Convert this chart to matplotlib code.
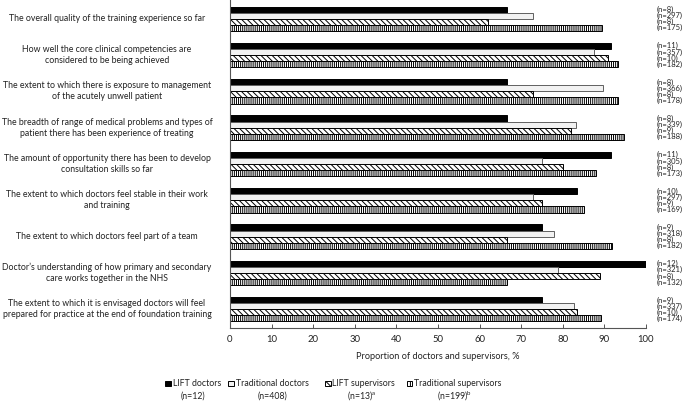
import matplotlib
matplotlib.use("Agg")
import matplotlib.pyplot as plt
import matplotlib.transforms as mtransforms
from matplotlib.patches import Rectangle
import numpy as np

plt.rcParams['font.family'] = ['Lato', 'DejaVu Sans']
plt.rcParams['hatch.linewidth'] = 0.7

categories = [
    "The overall quality of the training experience so far",
    "How well the core clinical competencies are\nconsidered to be being achieved",
    "The extent to which there is exposure to management\nof the acutely unwell patient",
    "The breadth of range of medical problems and types of\npatient there has been experience of treating",
    "The amount of opportunity there has been to develop\nconsultation skills so far",
    "The extent to which doctors feel stable in their work\nand training",
    "The extent to which doctors feel part of a team",
    "Doctor\u2019s understanding of how primary and secondary\ncare works together in the NHS",
    "The extent to which it is envisaged doctors will feel\nprepared for practice at the end of foundation training",
]

lift_doctors = [66.7, 91.7, 66.7, 66.7, 91.7, 83.3, 75.0, 100.0, 75.0]
trad_doctors = [72.9, 87.6, 89.7, 83.2, 74.9, 72.9, 78.0, 78.8, 82.6]
lift_supervisors = [62.0, 90.9, 72.8, 81.9, 80.1, 75.1, 66.7, 88.9, 83.5]
trad_supervisors = [89.5, 93.3, 93.2, 94.6, 87.9, 85.1, 91.9, 66.7, 89.3]

n_lift_doctors = [8, 11, 8, 8, 11, 10, 9, 12, 9]
n_trad_doctors = [297, 357, 366, 339, 305, 297, 318, 321, 337]
n_lift_supervisors = [8, 10, 8, 9, 8, 9, 8, 8, 10]
n_trad_supervisors = [175, 182, 178, 188, 173, 169, 182, 132, 174]

legend_first = ["LIFT doctors", "Traditional doctors", "LIFT supervisors", "Traditional supervisors"]
legend_second = ["(n=12)", "(n=408)", "(n=13)$^{\\mathregular{a}}$", "(n=199)$^{\\mathregular{b}}$"]

xticks = [0, 10, 20, 30, 40, 50, 60, 70, 80, 90, 100]
xlabel = "Proportion of doctors and supervisors, %"

W, H = 685, 405
fig = plt.figure(figsize=(W / 100, H / 100), dpi=100)
ax = fig.add_axes([230 / W, 1 - 328 / H, (646 - 230) / W, 328 / H])

series = [lift_doctors, trad_doctors, lift_supervisors, trad_supervisors]
ns = [n_lift_doctors, n_trad_doctors, n_lift_supervisors, n_trad_supervisors]
styles = [
    dict(facecolor='black', edgecolor='black', hatch=None),
    dict(facecolor='#f2f2f2', edgecolor='#606060', hatch=None),
    dict(facecolor='white', edgecolor='black', hatch='\\\\\\\\\\\\'),
    dict(facecolor='white', edgecolor='black', hatch='||||||||'),
]
h = 0.168
y = np.arange(len(categories))
for k, (vals, st) in enumerate(zip(series, styles)):
    yy = y + (k - 1.5) * h
    ax.barh(yy, vals, height=h, linewidth=0.7, **st)
    for yi, n in zip(yy, ns[k]):
        ax.text(102.6, yi, f"(n={n})", fontsize=5.5, va='center', ha='left',
                color='#222222', clip_on=False)

ax.set_xlim(0, 100)
ax.set_ylim(8 + 2 * h + 0.18, -2 * h - 0.18)
ax.set_yticks([])
ax.set_xticks(xticks)
ax.tick_params(axis='x', direction='in', length=3, width=0.7, color='#555555',
               labelsize=6.8, pad=5, labelcolor='#222222')
for s in ['top', 'right']:
    ax.spines[s].set_visible(False)
for s in ['left', 'bottom']:
    ax.spines[s].set_color('#555555')
    ax.spines[s].set_linewidth(0.8)
ax.set_xlabel(xlabel, fontsize=6.6, color='#222222', labelpad=6)

trans = mtransforms.blended_transform_factory(fig.transFigure, ax.transData)
for yi, c in zip(y, categories):
    ax.text(107 / W, yi, c, transform=trans, ha='center', va='center',
            fontsize=6.3, color='#222222', linespacing=1.25, multialignment='center')

# legend
sq_x = [165, 228, 325, 407]
second_cx = [193, 272, 362, 455]
for k in range(4):
    st = styles[k]
    rect = Rectangle(((sq_x[k]) / W, 1 - 386 / H), 5.5 / W, 5.5 / H,
                     transform=fig.transFigure, facecolor=st['facecolor'],
                     edgecolor='black', hatch=('\\\\\\' if k == 2 else ('||||' if k == 3 else None)),
                     linewidth=0.7)
    fig.add_artist(rect)
    fig.text((sq_x[k] + 7.5) / W, 1 - 383 / H, legend_first[k], fontsize=6.3,
             ha='left', va='center', color='#222222')
    fig.text(second_cx[k] / W, 1 - 396 / H, legend_second[k], fontsize=6.3,
             ha='center', va='center', color='#222222')

fig.savefig("out.png", dpi=100)
